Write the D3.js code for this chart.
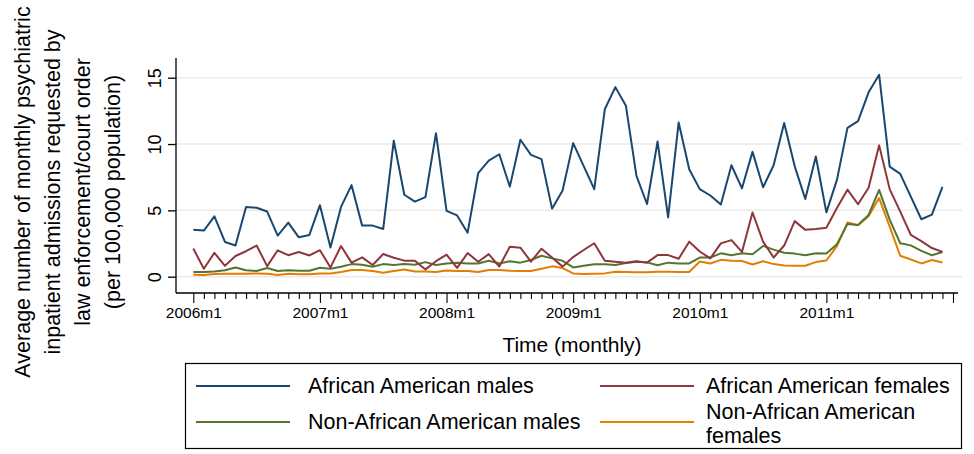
<!DOCTYPE html>
<html>
<head>
<meta charset="utf-8">
<script src="https://cdn.jsdelivr.net/npm/d3@7"></script>
<style>
  body { margin: 0; background: #fff; }
  svg { font-family: "Liberation Sans", Arial, sans-serif; }
</style>
</head>
<body>
<div id="chart"></div>
<script>
// monthly index 0 = 2006m1 ... 71 = 2011m12
var aaMales = [3.53, 3.48, 4.55, 2.62, 2.35, 5.26, 5.2, 4.91, 3.1, 4.08, 2.97, 3.15,
  5.39, 2.2, 5.26, 6.9, 3.85, 3.85, 3.6, 10.25, 6.18, 5.66, 6.0, 10.82,
  4.96, 4.62, 3.32, 7.8, 8.75, 9.23, 6.79, 10.32, 9.18, 8.86, 5.13, 6.5,
  10.07, 8.33, 6.6, 12.62, 14.29, 12.88, 7.6, 5.48, 10.19, 4.47, 11.63, 8.1,
  6.6, 6.12, 5.44, 8.4, 6.66, 9.41, 6.74, 8.4, 11.58, 8.32, 5.86, 9.06,
  4.85, 7.3, 11.22, 11.72, 13.9, 15.22, 8.3, 7.75, 6.04, 4.33, 4.68, 6.77];
var aaFemales = [2.12, 0.6, 1.8, 0.82, 1.56, 1.92, 2.35, 0.8, 1.99, 1.62, 1.86, 1.6,
  2.0, 0.7, 2.31, 1.06, 1.46, 0.88, 1.71, 1.43, 1.21, 1.21, 0.55, 1.17,
  1.66, 0.66, 1.78, 1.13, 1.7, 0.77, 2.26, 2.19, 1.13, 2.11, 1.44, 0.76,
  1.48, 2.01, 2.52, 1.2, 1.12, 1.06, 1.16, 1.06, 1.63, 1.63, 1.35, 2.64,
  1.9, 1.38, 2.51, 2.76, 1.87, 4.84, 2.64, 1.45, 2.35, 4.19, 3.53, 3.6,
  3.69, 5.18, 6.56, 5.46, 6.7, 9.9, 6.6, 4.9, 3.16, 2.68, 2.16, 1.87];
var nonAaMales = [0.35, 0.35, 0.4, 0.48, 0.7, 0.48, 0.43, 0.66, 0.43, 0.48, 0.45, 0.45,
  0.68, 0.6, 0.75, 0.95, 0.9, 0.75, 0.95, 0.88, 0.95, 0.9, 1.1, 0.88,
  1.0, 1.06, 1.0, 1.0, 1.2, 1.0, 1.16, 1.06, 1.26, 1.58, 1.38, 1.2,
  0.7, 0.82, 0.94, 0.94, 0.89, 1.03, 1.13, 1.08, 0.86, 1.06, 1.0, 1.0,
  1.44, 1.45, 1.76, 1.61, 1.76, 1.69, 2.32, 2.04, 1.81, 1.74, 1.61, 1.76,
  1.74, 2.45, 3.98, 3.89, 4.65, 6.54, 4.3, 2.52, 2.36, 1.95, 1.62, 1.86];
var nonAaFemales = [0.15, 0.13, 0.2, 0.23, 0.23, 0.23, 0.25, 0.23, 0.13, 0.23, 0.18, 0.18,
  0.25, 0.25, 0.35, 0.5, 0.5, 0.43, 0.3, 0.43, 0.55, 0.4, 0.4, 0.35,
  0.47, 0.43, 0.43, 0.35, 0.5, 0.5, 0.45, 0.43, 0.43, 0.6, 0.78, 0.65,
  0.25, 0.2, 0.23, 0.25, 0.38, 0.35, 0.33, 0.33, 0.38, 0.38, 0.35, 0.35,
  1.15, 1.0, 1.27, 1.2, 1.18, 0.92, 1.16, 0.95, 0.84, 0.83, 0.83, 1.1,
  1.22, 2.3, 4.08, 3.88, 4.56, 5.93, 3.78, 1.58, 1.3, 1.0, 1.26, 1.07];

var seriesNames = ['African American males', 'African American females',
  'Non-African American males', 'Non-African American females'];
var seriesColors = ['#1a476f', '#90353b', '#55752f', '#e37e00'];
var yTicks = [0, 5, 10, 15];
var yTitle = ['Average number of monthly psychiatric',
  'inpatient admissions requested by',
  'law enforcement/court order',
  '(per 100,000 population)'];
var xTitle = 'Time (monthly)';

var width = 974, height = 454;
var svg = d3.select('#chart').append('svg')
  .attr('width', width)
  .attr('height', height);

var plotLeft = 176, plotRight = 962, plotTop = 58, plotBottom = 293;

var x = d3.scaleLinear().domain([0, 72]).range([193.3, 953]);
var y = d3.scaleLinear().domain([0, 15]).range([276.7, 77.7]);

// grid
svg.append('g').selectAll('line')
  .data(yTicks)
  .enter().append('line')
  .attr('x1', plotLeft).attr('x2', plotRight)
  .attr('y1', function(d) { return y(d); })
  .attr('y2', function(d) { return y(d); })
  .attr('stroke', '#eaeaea')
  .attr('stroke-width', 1.5);

// y axis
var yAxis = d3.axisLeft(y).tickValues(yTicks).tickSize(8);
var gy = svg.append('g').attr('transform', 'translate(' + plotLeft + ',0)').call(yAxis);
gy.select('.domain').remove();
gy.append('line').attr('x1', 0).attr('x2', 0).attr('y1', plotTop).attr('y2', plotBottom)
  .attr('stroke', '#000').attr('stroke-width', 1.3);
gy.selectAll('.tick line').attr('stroke', '#000').attr('stroke-width', 1.3);
gy.selectAll('.tick text')
  .attr('font-size', 18)
  .attr('fill', '#000')
  .attr('text-anchor', 'middle')
  .attr('dy', 0)
  .attr('x', 0)
  .attr('transform', 'translate(-15,0) rotate(-90)');

// x axis
var months = d3.range(0, 73);
var xAxis = d3.axisBottom(x).tickValues(months)
  .tickSize(6)
  .tickFormat(function(d) { return (d % 12 === 0 && d < 72) ? (2006 + d / 12) + 'm1' : ''; });
var gx = svg.append('g').attr('transform', 'translate(0,' + plotBottom + ')').call(xAxis);
gx.select('.domain').remove();
gx.append('line').attr('x1', plotLeft).attr('x2', 958).attr('y1', 0).attr('y2', 0)
  .attr('stroke', '#000').attr('stroke-width', 1.3);
gx.selectAll('.tick line')
  .attr('stroke', '#000').attr('stroke-width', 1.1)
  .attr('y2', function(d) { return d % 12 === 0 ? 10 : 6; });
gx.selectAll('.tick text')
  .attr('font-size', 15.5)
  .attr('fill', '#000')
  .attr('y', 14);

svg.append('text')
  .attr('x', 572).attr('y', 352)
  .attr('text-anchor', 'middle')
  .attr('font-size', 21)
  .text(xTitle);

var yt = svg.append('text')
  .attr('transform', 'translate(0,192) rotate(-90)')
  .attr('text-anchor', 'middle')
  .attr('font-size', 21.5);
yTitle.forEach(function(t, i) {
  yt.append('tspan').attr('x', 0).attr('y', 30 + i * 30).text(t);
});

// lines
var line = d3.line()
  .x(function(d, i) { return x(i); })
  .y(function(d) { return y(d); });
var allSeries = [aaMales, aaFemales, nonAaMales, nonAaFemales];
// draw in reverse so blue sits on top
[3, 2, 1, 0].forEach(function(k) {
  svg.append('path')
    .datum(allSeries[k])
    .attr('d', line)
    .attr('fill', 'none')
    .attr('stroke', seriesColors[k])
    .attr('stroke-width', 2)
    .attr('stroke-linejoin', 'round');
});

// legend
var legend = svg.append('g');
legend.append('rect')
  .attr('x', 185.5).attr('y', 363.5)
  .attr('width', 776).attr('height', 85)
  .attr('fill', '#fff').attr('stroke', '#000').attr('stroke-width', 1.2);
var legendPos = [
  { lx: 196, tx: 308, ty: 386 }, { lx: 600, tx: 706, ty: 386 },
  { lx: 196, tx: 308, ty: 422 }, { lx: 600, tx: 706, ty: 422 }
];
legendPos.forEach(function(p, k) {
  legend.append('line')
    .attr('x1', p.lx).attr('x2', p.lx + 94)
    .attr('y1', p.ty).attr('y2', p.ty)
    .attr('stroke', seriesColors[k]).attr('stroke-width', 2);
  var t = legend.append('text')
    .attr('font-size', 21.5)
    .attr('x', p.tx);
  if (k === 3) {
    t.append('tspan').attr('x', p.tx).attr('y', p.ty - 3).text('Non-African American');
    t.append('tspan').attr('x', p.tx).attr('y', p.ty + 21).text('females');
  } else {
    t.attr('y', p.ty + 7).text(seriesNames[k]);
  }
});
</script>
</body>
</html>
